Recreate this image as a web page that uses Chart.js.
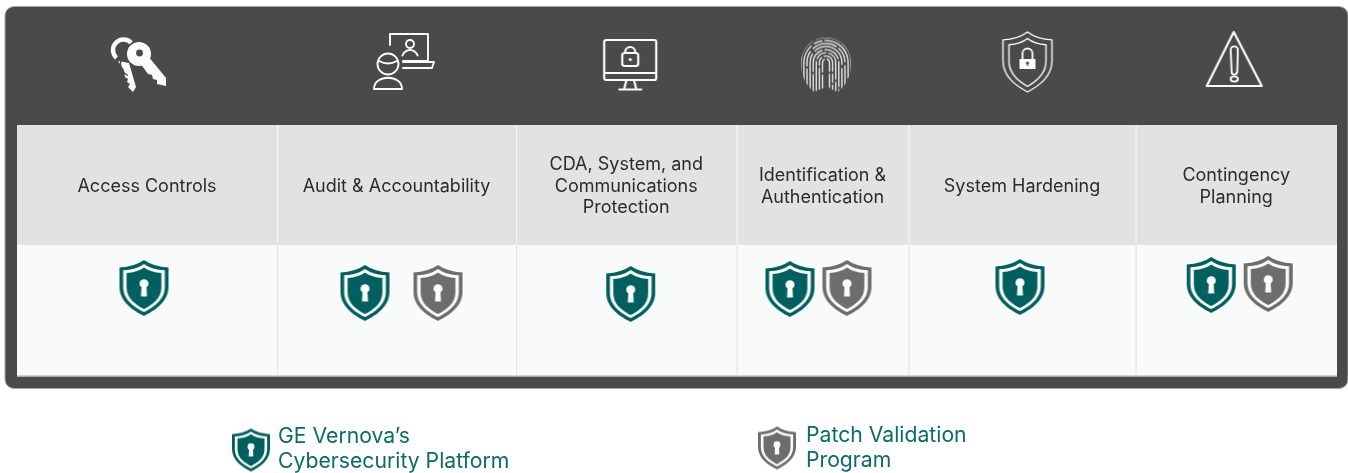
<!DOCTYPE html>
<html>
<head>
<meta charset="utf-8">
<title>Cybersecurity controls</title>
<script src="https://cdn.jsdelivr.net/npm/chart.js@4"></script>
<style>
  html, body { margin: 0; padding: 0; background: #fff; }
  canvas { display: block; }
</style>
</head>
<body>
<canvas id="controls" width="1348" height="473"></canvas>
<script>
// table content
const categories = [
  ['Access Controls'],
  ['Audit & Accountability'],
  ['CDA, System, and', 'Communications', 'Protection'],
  ['Identification &', 'Authentication'],
  ['System Hardening'],
  ['Contingency', 'Planning']
];
// which program covers which control (1 = shield shown)
const platformCovered = [1, 1, 1, 1, 1, 1];
const patchCovered = [0, 1, 0, 1, 0, 1];
const legendLabels = [
  ['GE Vernova\u2019s', 'Cybersecurity Platform'],
  ['Patch Validation', 'Program']
];

// layout, in scale units (the scales run 1:1 with the canvas)
const colEdges = [17, 277, 516, 736.5, 908.5, 1135.5, 1337];
const rows = { iconY: 62, headTop: 125, headBottom: 245, bodyBottom: 377, shieldY: 289 };
const iconNudgeX = [-7, 7.5, 5, 3.5, 5.5, -1.5];
const iconNudgeY = [1, -1, 3, 3, 0, -3];
const platformNudgeX = [-3, -31.5, 4.5, -32.5, -2, -25];
const platformNudgeY = [-1, 4, 5, 0, -2, -4];
const patchNudgeX = [0, 41.5, 0, 24.5, 0, 32];
const patchNudgeY = [0, 4, 0, -1, 0, -5];

const TEAL = '#00605f';
const GREY = '#6d6d6d';

function makeCanvas(w, h, draw) {
  const c = document.createElement('canvas');
  c.width = w; c.height = h;
  const g = c.getContext('2d');
  g.lineCap = 'round';
  g.lineJoin = 'round';
  draw(g);
  return c;
}

function shieldOutline(g, cx, cy, k) {
  // drawn in a 147 x 167 box
  const px = x => cx + (x - 73.5) * k.x;
  const py = y => cy + (y - 83.5) * k.y;
  g.beginPath();
  g.moveTo(px(73.5), py(0));
  g.quadraticCurveTo(px(45), py(20), px(0), py(22));
  g.lineTo(px(0), py(80));
  g.bezierCurveTo(px(0), py(125), px(40), py(150), px(73.5), py(167));
  g.bezierCurveTo(px(107), py(150), px(147), py(125), px(147), py(80));
  g.lineTo(px(147), py(22));
  g.quadraticCurveTo(px(102), py(20), px(73.5), py(0));
  g.closePath();
}

function shieldIcon(w, h, color) {
  return makeCanvas(w + 2, h + 2, g => {
    const cx = (w + 2) / 2, cy = (h + 2) / 2;
    const kx = w / 147, ky = h / 167;
    g.fillStyle = color;
    shieldOutline(g, cx, cy, { x: kx, y: ky });
    g.fill();
    g.fillStyle = '#fafcfb';
    shieldOutline(g, cx, cy, { x: kx * 0.85, y: ky * 0.86 });
    g.fill();
    g.fillStyle = color;
    shieldOutline(g, cx, cy + 1 * ky, { x: kx * 0.71, y: ky * 0.74 });
    g.fill();
    // keyhole
    g.fillStyle = '#fafcfb';
    g.beginPath();
    g.arc(cx, cy - 13 * ky, 13.5 * kx, 0, Math.PI * 2);
    g.fill();
    g.beginPath();
    g.moveTo(cx - 7 * kx, cy - 10 * ky);
    g.lineTo(cx - 9 * kx, cy + 25 * ky);
    g.lineTo(cx + 9 * kx, cy + 25 * ky);
    g.lineTo(cx + 7 * kx, cy - 10 * ky);
    g.closePath();
    g.fill();
  });
}

const WHITE = '#fbfcfc';

function keysIcon() {
  return makeCanvas(60, 62, g => {
    g.strokeStyle = WHITE; g.fillStyle = WHITE;
    // back key
    g.lineWidth = 4.4;
    g.lineCap = 'butt';
    g.beginPath();
    g.arc(13.5, 18, 10.5, -0.75, 2.3, true);
    g.stroke();
    g.beginPath();
    g.moveTo(8, 29); g.lineTo(19, 31); g.lineTo(26, 55);
    g.lineTo(23, 60); g.lineTo(18, 55); g.lineTo(20, 52); g.lineTo(17, 50);
    g.lineTo(18, 47); g.lineTo(15, 45); g.lineTo(14, 38);
    g.closePath();
    g.fill();
    // front key
    g.beginPath();
    g.arc(29, 22, 12, 0, Math.PI * 2);
    g.fill();
    g.beginPath();
    g.moveTo(30, 31); g.lineTo(38, 24); g.lineTo(56, 46); g.lineTo(56, 54);
    g.lineTo(47, 52); g.lineTo(47, 48); g.lineTo(43, 47); g.lineTo(42, 43); g.lineTo(38, 42);
    g.closePath();
    g.fill();
    g.strokeStyle = '#4a4a4a';
    g.lineWidth = 1.4;
    g.beginPath();
    g.arc(23, 32, 12.5, 2.0, 4.0);
    g.stroke();
    g.fillStyle = '#4a4a4a';
    g.beginPath();
    g.arc(29.5, 21, 3.4, 0, Math.PI * 2);
    g.fill();
  });
}

function auditIcon() {
  return makeCanvas(64, 60, g => {
    g.strokeStyle = WHITE;
    g.lineWidth = 1.9;
    g.beginPath();
    g.moveTo(18, 14); g.lineTo(18, 3); g.lineTo(56, 3); g.lineTo(56, 30); g.lineTo(31, 30);
    g.stroke();
    g.beginPath();
    g.moveTo(31, 31); g.lineTo(62, 31); g.lineTo(60, 37); g.lineTo(31, 37);
    g.stroke();
    g.beginPath(); g.arc(38, 13, 4, 0, Math.PI * 2); g.stroke();
    g.beginPath(); g.arc(38, 27, 8, Math.PI * 1.1, Math.PI * 1.9); g.stroke();
    // front person
    g.lineWidth = 1.9;
    g.beginPath(); g.arc(16, 33, 10.5, 0, Math.PI * 2); g.stroke();
    g.beginPath();
    g.moveTo(7, 30); g.quadraticCurveTo(16, 35, 25, 30);
    g.stroke();
    g.beginPath();
    g.moveTo(2, 58); g.lineTo(30, 58);
    g.bezierCurveTo(30, 43, 2, 43, 2, 58);
    g.closePath();
    g.stroke();
  });
}

function monitorIcon() {
  return makeCanvas(58, 54, g => {
    g.strokeStyle = WHITE;
    g.lineWidth = 2.2;
    g.beginPath(); g.roundRect(2, 2, 52, 40, 2); g.stroke();
    g.beginPath(); g.moveTo(2, 35); g.lineTo(54, 35); g.stroke();
    g.beginPath(); g.moveTo(24, 43); g.lineTo(22, 51); g.moveTo(32, 43); g.lineTo(34, 51); g.stroke();
    g.beginPath(); g.moveTo(17, 51.5); g.lineTo(39, 51.5); g.stroke();
    // padlock
    g.beginPath(); g.roundRect(20, 15, 16, 13, 2.5); g.stroke();
    g.beginPath(); g.arc(28, 14, 5, Math.PI, 0); g.lineTo(33, 15); g.moveTo(23, 14); g.lineTo(23, 15); g.stroke();
    g.fillStyle = WHITE;
    g.beginPath(); g.arc(28, 21.5, 1.6, 0, Math.PI * 2); g.fill();
  });
}

function fingerprintIcon() {
  return makeCanvas(54, 57, g => {
    g.save();
    // thumb outline, the ridges stop at its edge
    g.beginPath();
    g.moveTo(2, 24);
    g.arc(27, 26, 25, Math.PI, 0);
    g.bezierCurveTo(53, 40, 46, 50, 38, 56);
    g.lineTo(16, 56);
    g.bezierCurveTo(8, 50, 1, 40, 2, 24);
    g.closePath();
    g.clip();
    g.strokeStyle = 'rgba(245,245,245,0.82)';
    g.lineWidth = 1.5;
    g.lineCap = 'butt';
    const dashes = [[14, 2], [22, 2, 9, 2], [30, 2, 12, 2], [18, 2, 26, 2], [40, 3], [26, 2, 16, 3], [52, 3, 9, 2], [60, 3]];
    for (let i = 0; i < 8; i++) {
      const r = 3.5 + i * 3.1;
      const drop = 24 + i * 1.2;
      g.setLineDash(dashes[i]);
      g.beginPath();
      g.moveTo(27 - r, 28 + drop);
      g.lineTo(27 - r, 26);
      g.arc(27, 26, r, Math.PI, 0);
      g.lineTo(27 + r, 28 + drop);
      g.stroke();
    }
    g.restore();
  });
}

function shieldLockIcon() {
  return makeCanvas(54, 64, g => {
    g.strokeStyle = WHITE;
    g.lineWidth = 1.4;
    shieldOutline(g, 27, 32, { x: 49 / 147, y: 60 / 167 }); g.stroke();
    shieldOutline(g, 27, 32.5, { x: 37 / 147, y: 48 / 167 }); g.stroke();
    g.fillStyle = WHITE;
    g.fillRect(19, 29, 16, 10);
    g.lineWidth = 1.8;
    g.beginPath(); g.arc(27, 23.5, 5, Math.PI, 0); g.lineTo(32, 29); g.moveTo(22, 23.5); g.lineTo(22, 29); g.stroke();
    g.fillStyle = '#4a4a4a';
    g.beginPath(); g.arc(27, 33, 1.5, 0, Math.PI * 2); g.fill();
    g.fillRect(26.4, 33, 1.2, 3);
  });
}

function warningIcon() {
  return makeCanvas(62, 60, g => {
    g.strokeStyle = WHITE;
    g.lineWidth = 2.2;
    g.beginPath();
    g.moveTo(30, 3); g.lineTo(58, 57); g.lineTo(3, 57);
    g.closePath();
    g.stroke();
    g.lineWidth = 1.9;
    g.beginPath();
    g.moveTo(27, 22);
    g.arc(30.5, 21, 3.6, Math.PI, 0);
    g.lineTo(33.5, 43);
    g.arc(30.5, 43, 2.6, 0, Math.PI);
    g.closePath();
    g.stroke();
    g.beginPath();
    g.ellipse(30.5, 50, 3.6, 2.6, 0, 0, Math.PI * 2);
    g.stroke();
  });
}

const colCenter = i => (colEdges[i] + colEdges[i + 1]) / 2;

const iconImages = [keysIcon(), auditIcon(), monitorIcon(), fingerprintIcon(), shieldLockIcon(), warningIcon()];
const iconPoints = categories.map((c, i) => ({ x: colCenter(i) + iconNudgeX[i], y: rows.iconY + iconNudgeY[i] }));

function shieldPoints(flags, nudgeX, nudgeY) {
  const out = [];
  flags.forEach((on, i) => {
    if (on) out.push({ x: colCenter(i) + nudgeX[i], y: rows.shieldY + nudgeY[i] });
  });
  return out;
}

// draws the dark panel, the cells and all the table text
const tablePlugin = {
  id: 'tablePlugin',
  beforeDatasetsDraw(chart) {
    const { ctx, scales: { x, y } } = chart;
    const px = v => x.getPixelForValue(v);
    const py = v => y.getPixelForValue(v);
    ctx.save();
    ctx.fillStyle = '#4a4a4a';
    ctx.strokeStyle = '#a5a5a5';
    ctx.lineWidth = 1;
    ctx.beginPath();
    ctx.roundRect(px(5), py(6.5), px(1348) - px(5), py(388.5) - py(6.5), 9);
    ctx.fill();
    ctx.stroke();

    const left = colEdges[0], right = colEdges[colEdges.length - 1];
    ctx.fillStyle = '#e2e2e2';
    ctx.fillRect(px(left), py(rows.headTop), px(right) - px(left), py(rows.headBottom) - py(rows.headTop));
    ctx.fillStyle = '#f9fbfa';
    ctx.fillRect(px(left), py(rows.headBottom), px(right) - px(left), py(rows.bodyBottom) - py(rows.headBottom));
    ctx.fillStyle = '#a9aaa9';
    ctx.fillRect(px(left), py(rows.bodyBottom - 1.5), px(right) - px(left), 1.5);

    for (let i = 1; i < colEdges.length - 1; i++) {
      ctx.fillStyle = '#f4f5f5';
      ctx.fillRect(px(colEdges[i]), py(rows.headTop), 1.2, py(rows.headBottom) - py(rows.headTop));
      ctx.fillStyle = '#e3e6e4';
      ctx.fillRect(px(colEdges[i]), py(rows.headBottom), 1.2, py(rows.bodyBottom - 1.5) - py(rows.headBottom));
    }

    ctx.font = '18px Inter';
    ctx.fillStyle = '#2b2b2b';
    ctx.textAlign = 'center';
    ctx.textBaseline = 'middle';
    const midY = (rows.headTop + rows.headBottom) / 2 + 1.5;
    categories.forEach((lines, i) => {
      const top = midY - (lines.length - 1) * 21.5 / 2;
      lines.forEach((t, j) => ctx.fillText(t, px(colCenter(i)), py(top + j * 21.5)));
    });

    ctx.font = '21.2px Inter';
    ctx.fillStyle = '#0b6a6a';
    ctx.textAlign = 'left';
    legendLabels[0].forEach((t, j) => ctx.fillText(t, px(278), py(437 + j * 25)));
    legendLabels[1].forEach((t, j) => ctx.fillText(t, px(806), py(436 + j * 25)));
    ctx.restore();
  }
};

new Chart(document.getElementById('controls'), {
  type: 'scatter',
  data: {
    datasets: [
      {
        label: 'Control type',
        data: iconPoints,
        pointStyle: iconImages,
        pointRadius: 10
      },
      {
        label: 'GE Vernova\u2019s Cybersecurity Platform',
        data: shieldPoints(platformCovered, platformNudgeX, platformNudgeY),
        pointStyle: shieldIcon(49, 56, TEAL),
        pointRadius: 10
      },
      {
        label: 'Patch Validation Program',
        data: shieldPoints(patchCovered, patchNudgeX, patchNudgeY),
        pointStyle: shieldIcon(49, 56, GREY),
        pointRadius: 10
      },
      {
        label: 'Legend, platform',
        data: [{ x: 251, y: 450 }],
        pointStyle: shieldIcon(38, 43, TEAL),
        pointRadius: 10
      },
      {
        label: 'Legend, patch',
        data: [{ x: 777, y: 448 }],
        pointStyle: shieldIcon(38, 43, GREY),
        pointRadius: 10
      }
    ]
  },
  options: {
    responsive: false,
    animation: false,
    layout: { padding: 0, autoPadding: false },
    plugins: {
      legend: { display: false },
      tooltip: { enabled: false }
    },
    scales: {
      x: { type: 'linear', min: 0, max: 1348, display: false },
      y: { type: 'linear', min: 0, max: 473, reverse: true, display: false }
    }
  },
  plugins: [tablePlugin]
});
</script>
</body>
</html>
